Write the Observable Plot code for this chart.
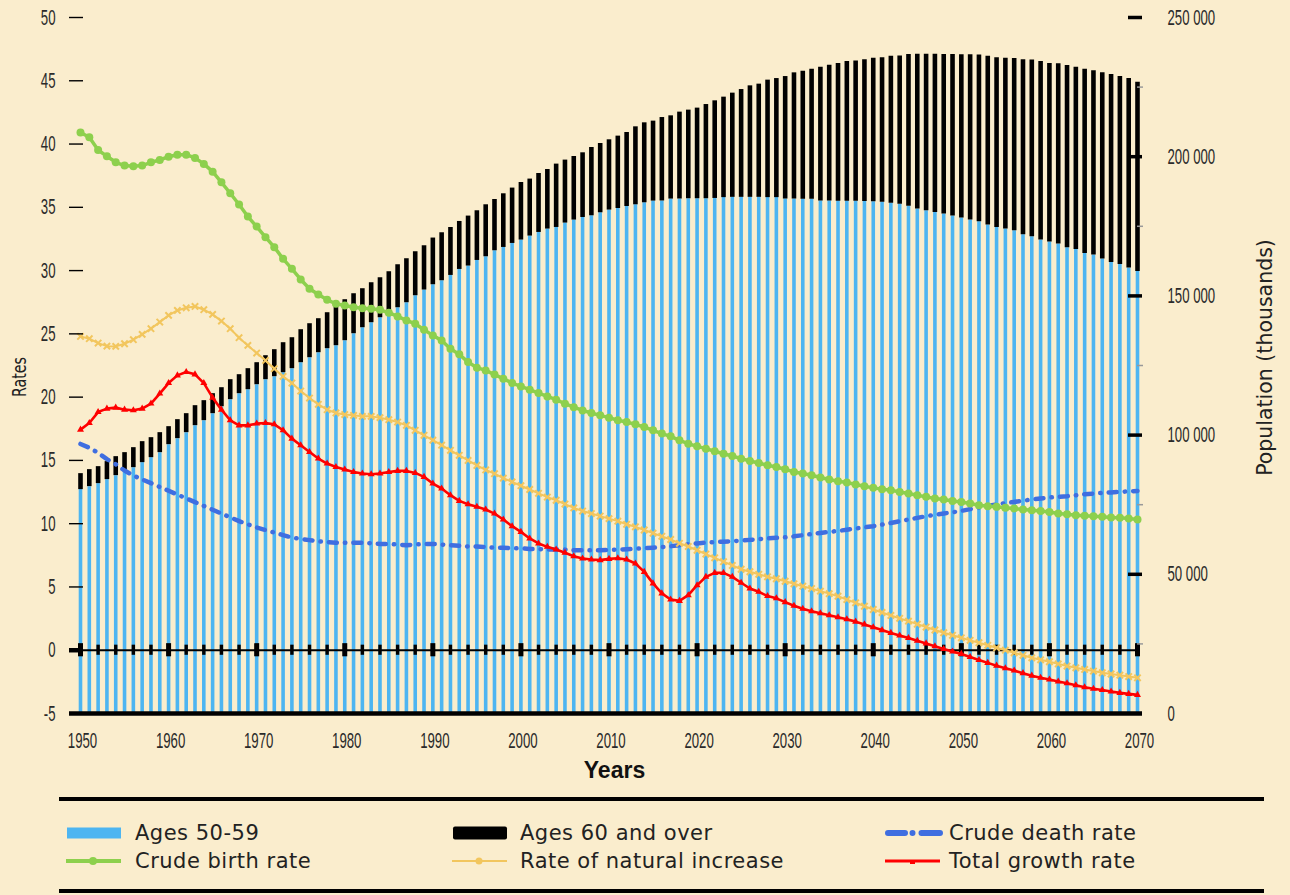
<!DOCTYPE html>
<html>
<head>
<meta charset="utf-8">
<script src="https://cdn.jsdelivr.net/npm/d3@7"></script>
<script src="https://cdn.jsdelivr.net/npm/@observablehq/plot@0.6"></script>
<style>
  html, body { margin: 0; padding: 0; background: #FAEDCD; }
  #wrap { position: relative; width: 1290px; height: 895px; overflow: hidden; background: #FAEDCD; }
  #chart svg { display: block; }
  #legend { position: absolute; left: 0; top: 790px; width: 1290px; height: 105px;
            font-family: "DejaVu Sans", sans-serif; font-size: 21px; color: #222; }
  #legend .rule { position: absolute; left: 59px; width: 1205px; height: 4px; background: #000; }
  #legend .sw { position: absolute; }
  #legend .lab { position: absolute; white-space: nowrap; line-height: 24px; letter-spacing: 0.5px; }
</style>
</head>
<body>
<div id="wrap">
  <div id="chart"></div>
  <div id="legend"></div>
</div>
<script>
// ---------------- data ----------------
const years = d3.range(1950, 2071);

// Population, thousands (right axis) — lower stacked segment (blue)
const ages5059 = [
  80420, 81490, 82570, 84010, 85440, 86880, 88310, 90110, 91900, 93700,
  96570, 98730, 100880, 103390, 105190, 107700, 110210, 112730, 114880, 116310,
  118110, 119910, 120980, 122420, 123860, 126010, 127800, 129600, 131040, 132110,
  133910, 136420, 138570, 140370, 142160, 143960, 145750, 147550, 150060, 152110,
  154010, 155450, 157350, 159500, 160720, 162730, 164060, 166220, 167400, 168840,
  170060, 171490, 172790, 174010, 174580, 176160, 177240, 178170, 178780, 179860,
  180830, 181400, 182120, 182730, 183450, 184060, 184100, 184780, 184800, 184900,
  184900, 184900, 185000, 185300, 185400, 185400, 185400, 185400, 185300, 185300,
  184800, 184800, 184700, 184700, 184100, 184100, 184000, 184000, 184000, 183900,
  183800, 183600, 183300, 182900, 182200, 181190, 180580, 179970, 179390, 178670,
  177960, 177240, 176630, 175440, 174580, 174010, 173400, 171960, 171240, 170060,
  169340, 168620, 167290, 166680, 165250, 164670, 163240, 162020, 161300, 160010,
  158790
];
// upper stacked segment (black)
const ages60plus = [
  5740, 6110, 6100, 6460, 6820, 6820, 7180, 7540, 7180, 7180,
  6460, 6820, 6820, 7180, 7180, 7180, 6820, 7180, 6820, 7550,
  7900, 8610, 9700, 10770, 11120, 11850, 12210, 12210, 12920, 14720,
  14720, 14360, 14010, 14360, 14360, 14720, 15440, 15800, 15800, 15900,
  16770, 17230, 17230, 17240, 17950, 17850, 18670, 18410, 19280, 19890,
  20680, 20470, 21180, 21390, 22760, 22620, 22830, 23230, 24520, 24880,
  25240, 25990, 26570, 28000, 28720, 28720, 29970, 29900, 31210, 31830,
  32550, 33840, 35070, 36090, 37430, 38720, 40050, 40660, 42200, 42770,
  43990, 45320, 46030, 46750, 48070, 48780, 49460, 50180, 50400, 50890,
  51600, 51900, 52810, 53300, 54490, 55610, 56220, 56830, 57310, 58030,
  58640, 59360, 59870, 60670, 60920, 61390, 61900, 62830, 63460, 64120,
  64120, 64780, 65450, 65490, 66200, 66170, 66880, 67490, 67490, 68060,
  67990
];
// Rates (left axis)
const birthRate = [
  40.92, 40.53, 39.53, 39.03, 38.56, 38.30, 38.24, 38.30, 38.56, 38.74,
  39.00, 39.16, 39.16, 38.90, 38.43, 37.82, 36.98, 36.11, 35.22, 34.27,
  33.48, 32.64, 31.85, 30.93, 30.14, 29.30, 28.56, 28.11, 27.69, 27.38,
  27.24, 27.11, 27.03, 26.98, 26.90, 26.67, 26.38, 26.06, 25.80, 25.33,
  24.88, 24.48, 23.83, 23.38, 22.77, 22.33, 22.11, 21.78, 21.46, 21.11,
  20.85, 20.59, 20.32, 20.06, 19.80, 19.48, 19.21, 18.95, 18.75, 18.56,
  18.38, 18.17, 18.03, 17.85, 17.64, 17.38, 17.12, 16.90, 16.59, 16.32,
  16.11, 15.93, 15.72, 15.53, 15.35, 15.14, 14.95, 14.79, 14.61, 14.48,
  14.30, 14.09, 13.96, 13.83, 13.65, 13.49, 13.36, 13.25, 13.10, 12.96,
  12.83, 12.73, 12.65, 12.51, 12.38, 12.25, 12.12, 11.99, 11.91, 11.80,
  11.72, 11.59, 11.46, 11.38, 11.33, 11.25, 11.20, 11.12, 11.07, 11.01,
  10.93, 10.80, 10.75, 10.67, 10.62, 10.59, 10.54, 10.49, 10.46, 10.41,
  10.33
];
const deathRate = [
  16.3, 16.0, 15.6, 15.1, 14.7, 14.2, 13.8, 13.5, 13.2, 12.9,
  12.6, 12.3, 12.0, 11.7, 11.4, 11.1, 10.8, 10.5, 10.2, 9.95,
  9.7, 9.5, 9.3, 9.1, 8.9, 8.8, 8.7, 8.6, 8.55, 8.5,
  8.5, 8.5, 8.5, 8.45, 8.4, 8.4, 8.35, 8.3, 8.35, 8.4,
  8.4, 8.35, 8.3, 8.25, 8.2, 8.2, 8.15, 8.1, 8.1, 8.05,
  8.05, 8.0, 8.0, 7.95, 7.95, 7.95, 7.9, 7.9, 7.9, 7.9,
  7.92, 7.95, 7.98, 8.02, 8.06, 8.1, 8.15, 8.22, 8.3, 8.37,
  8.44, 8.5, 8.54, 8.58, 8.62, 8.66, 8.72, 8.78, 8.84, 8.88,
  8.92, 9.0, 9.09, 9.18, 9.27, 9.35, 9.43, 9.52, 9.62, 9.71,
  9.80, 9.93, 10.06, 10.2, 10.33, 10.46, 10.59, 10.7, 10.80, 10.9,
  11.01, 11.15, 11.28, 11.4, 11.52, 11.62, 11.72, 11.82, 11.91, 11.99,
  12.07, 12.12, 12.17, 12.25, 12.33, 12.38, 12.43, 12.47, 12.51, 12.55,
  12.59
];
const naturalIncrease = [
  24.80, 24.62, 24.27, 24.03, 24.01, 24.22, 24.54, 24.96, 25.41, 25.93,
  26.46, 26.85, 27.06, 27.17, 26.91, 26.54, 26.01, 25.41, 24.70, 24.09,
  23.48, 22.90, 22.25, 21.64, 21.11, 20.48, 19.93, 19.43, 19.01, 18.75,
  18.62, 18.56, 18.48, 18.48, 18.38, 18.22, 18.03, 17.77, 17.38, 16.98,
  16.6, 16.2, 15.8, 15.4, 15.0, 14.6, 14.25, 13.95, 13.6, 13.3,
  13.0, 12.7, 12.4, 12.1, 11.85, 11.55, 11.25, 11.0, 10.8, 10.6,
  10.4, 10.2, 9.95, 9.75, 9.5, 9.25, 9.0, 8.75, 8.45, 8.2,
  7.9, 7.6, 7.3, 7.0, 6.7, 6.4, 6.2, 6.0, 5.8, 5.65,
  5.45, 5.25, 5.06, 4.87, 4.67, 4.47, 4.27, 4.0, 3.75, 3.48,
  3.22, 2.98, 2.75, 2.52, 2.30, 2.06, 1.83, 1.6, 1.38, 1.18,
  0.98, 0.78, 0.59, 0.39, 0.19, 0.0, -0.20, -0.40, -0.60, -0.76,
  -0.91, -1.08, -1.25, -1.39, -1.52, -1.65, -1.78, -1.88, -1.97, -2.08,
  -2.18
];
const growthRate = [
  17.43, 17.96, 18.82, 19.09, 19.17, 19.01, 18.96, 19.09, 19.49, 20.28,
  21.11, 21.72, 21.98, 21.80, 21.11, 19.96, 19.01, 18.17, 17.77, 17.77,
  17.91, 17.96, 17.85, 17.38, 16.72, 16.20, 15.67, 15.15, 14.75, 14.48,
  14.28, 14.09, 13.96, 13.91, 13.96, 14.09, 14.17, 14.17, 14.01, 13.70,
  13.17, 12.78, 12.25, 11.80, 11.54, 11.33, 11.12, 10.80, 10.33, 9.80,
  9.35, 8.83, 8.44, 8.17, 7.96, 7.70, 7.43, 7.25, 7.17, 7.12,
  7.22, 7.27, 7.17, 6.85, 6.19, 5.28, 4.49, 4.01, 3.90, 4.35,
  5.14, 5.80, 6.11, 6.11, 5.80, 5.33, 4.88, 4.62, 4.28, 4.10,
  3.80, 3.52, 3.27, 3.08, 2.92, 2.76, 2.60, 2.44, 2.26, 2.04,
  1.81, 1.59, 1.37, 1.17, 0.97, 0.75, 0.54, 0.32, 0.10, -0.10,
  -0.29, -0.53, -0.77, -1.00, -1.22, -1.42, -1.61, -1.81, -2.01, -2.17,
  -2.32, -2.47, -2.61, -2.77, -2.93, -3.04, -3.14, -3.26, -3.37, -3.45,
  -3.53
];

// tick values
const rateTicks = [-5, 0, 5, 10, 15, 20, 25, 30, 35, 40, 45, 50];
const popTicks = [0, 50000, 100000, 150000, 200000, 250000];
const popMinorTicks = [25000, 75000, 125000, 175000, 225000];
const yearTicks = [1950, 1960, 1970, 1980, 1990, 2000, 2010, 2020, 2030, 2040, 2050, 2060, 2070];
const legendLabels = ["Ages 50-59", "Ages 60 and over", "Crude death rate",
                      "Crude birth rate", "Rate of natural increase", "Total growth rate"];

// ---------------- styling ----------------
const BLUE = "#4DB5F1", GREEN = "#8DD04D", YELLOW = "#F2C65E", RED = "#FF0000", DEATH = "#3F6EE0";
const TICKFONT = "'Liberation Sans', Arial, sans-serif";

// population (right axis) expressed on the rate axis: 0 → -5, 250 000 → 50
const popMax = 250000;
const toRate = p => -5 + p / popMax * 55;

const rows = years.map((year, i) => ({
  year, under: ages5059[i], over: ages60plus[i],
  birth: birthRate[i], death: deathRate[i], natural: naturalIncrease[i], growth: growthRate[i]
}));
const minorYears = years.filter(y => y % 2 === 0 && y % 10 !== 0);
const fmtPop = d3.formatLocale({decimal: ".", thousands: " ", grouping: [3], currency: ["", ""]}).format(",d");

const chart = Plot.plot({
  width: 1290, height: 790,
  marginLeft: 80, marginRight: 153, marginTop: 17, marginBottom: 77,
  style: {background: "transparent", overflow: "visible"},
  x: {domain: [1950, 2070]},
  y: {domain: [-5, 50]},
  marks: [
    // stacked population bars
    Plot.ruleX(rows, {x: "year", y1: () => toRate(0), y2: d => toRate(d.under), stroke: BLUE, strokeWidth: 3.6}),
    Plot.ruleX(rows, {x: "year", y1: d => toRate(d.under), y2: d => toRate(d.under + d.over), stroke: "#000", strokeWidth: 4.6}),
    // zero line with year ticks
    Plot.ruleY([0], {stroke: "#000", strokeWidth: 2.2, insetLeft: -11}),
    Plot.ruleY([0], {x1: 1950, x2: 1950, insetLeft: -11, stroke: "#000", strokeWidth: 4.5}),
    Plot.ruleX(minorYears, {x: d => d, y1: -0.4, y2: 0.4, stroke: "#000", strokeWidth: 3.4}),
    Plot.ruleX(yearTicks, {x: d => d, y1: -0.52, y2: 0.52, stroke: "#000", strokeWidth: 5}),
    // rate lines
    Plot.line(rows, {x: "year", y: "death", stroke: DEATH, strokeWidth: 4.5, strokeDasharray: "8,8,0.5,8"}),
    Plot.line(rows, {x: "year", y: "birth", stroke: GREEN, strokeWidth: 3.5}),
    Plot.dot(rows, {x: "year", y: "birth", r: 4, fill: GREEN}),
    Plot.line(rows, {x: "year", y: "natural", stroke: YELLOW, strokeWidth: 2}),
    Plot.dot(rows, {x: "year", y: "natural", symbol: "times", r: 3, stroke: YELLOW, strokeWidth: 2}),
    Plot.line(rows, {x: "year", y: "growth", stroke: RED, strokeWidth: 2.6}),
    Plot.dot(rows, {x: "year", y: "growth", symbol: "triangle", r: 2.6, fill: RED}),
    // bottom base line
    Plot.ruleY([-5], {stroke: "#000", strokeWidth: 4.5, insetLeft: -11, insetRight: -5}),
    // left axis
    Plot.ruleY(rateTicks.filter(t => t > 0), {x1: 1950, x2: 1950, insetLeft: -11, insetRight: -3, stroke: "#000", strokeWidth: 1.4}),
    Plot.axisY({anchor: "left", ticks: rateTicks, tickSize: 0, tickPadding: 25, tickFormat: d => String(d),
                fill: "#2a2a2a", label: null}),
    // right axis (population)
    Plot.ruleY(popMinorTicks, {y: toRate, x1: 2070, x2: 2070, insetRight: -6, stroke: "#999", strokeWidth: 1.5}),
    Plot.ruleY(popTicks.filter(t => t > 0), {y: toRate, x1: 2070, x2: 2070, insetLeft: -9, insetRight: -5, stroke: "#000", strokeWidth: 3.5}),
    Plot.axisY({anchor: "right", ticks: popTicks.map(toRate), tickSize: 0, tickPadding: 30,
                tickFormat: (d, i) => fmtPop(popTicks[i]), fill: "#2a2a2a", label: null}),
    // x axis labels
    Plot.axisX({ticks: yearTicks, tickSize: 0, tickPadding: 19, tickFormat: d => String(d), dx: 2,
                fill: "#2a2a2a", label: null})
  ]
});
document.getElementById("chart").appendChild(chart);

// condensed look for tick labels (the original uses a tall condensed face)
d3.select(chart).selectAll("g[aria-label$='tick label'] text").each(function () {
  this.setAttribute("font-size", "22");
  this.style.fontSize = "22px";
  this.style.fontFamily = TICKFONT;
  const w = this.getComputedTextLength();
  this.setAttribute("textLength", (w * 0.6).toFixed(1));
  this.setAttribute("lengthAdjust", "spacingAndGlyphs");
});

// axis titles
const svg = d3.select(chart);
svg.append("text").attr("x", 614.5).attr("y", 778).attr("text-anchor", "middle")
  .style("font-family", "'Liberation Sans', Arial, sans-serif").style("font-weight", "bold")
  .style("font-size", "23px").attr("fill", "#111").text("Years");
svg.append("text").attr("transform", "translate(26,377) rotate(-90)").attr("text-anchor", "middle")
  .style("font-family", "'DejaVu Sans', sans-serif").style("font-size", "20px").attr("fill", "#222")
  .attr("textLength", 40).attr("lengthAdjust", "spacingAndGlyphs").text("Rates");
svg.append("text").attr("transform", "translate(1272,357.5) rotate(-90)").attr("text-anchor", "middle")
  .style("font-family", "'DejaVu Sans', sans-serif").style("font-size", "20.5px").attr("fill", "#222").text("Population (thousands)");

// ---------------- legend ----------------
const legend = d3.select("#legend");
legend.append("div").attr("class", "rule").style("top", "7px");
legend.append("div").attr("class", "rule").style("top", "99px");
const cols = [{sw: 66, tx: 135}, {sw: 452, tx: 520}, {sw: 885, tx: 949}];
const rowY = [43, 71];
const kinds = ["bar", "bar", "dash", "dot", "dot", "tri"];
const colors = [BLUE, "#000", DEATH, GREEN, YELLOW, RED];
legendLabels.forEach((label, i) => {
  const c = cols[i % 3], cy = rowY[Math.floor(i / 3)];
  const s = legend.append("svg").attr("class", "sw").attr("width", 60).attr("height", 20)
    .style("left", c.sw + "px").style("top", (cy - 10) + "px");
  const k = kinds[i], col = colors[i];
  if (k === "bar") {
    const h = i === 1 ? 13 : 11;
    s.append("rect").attr("x", 1).attr("y", 10 - h / 2).attr("width", 54).attr("height", h)
      .attr("rx", i === 1 ? 2 : 0).attr("fill", col);
  } else if (k === "dash") {
    s.append("line").attr("x1", 3).attr("x2", 55).attr("y1", 10).attr("y2", 10)
      .attr("stroke", col).attr("stroke-width", 6).attr("stroke-linecap", "round")
      .attr("stroke-dasharray", "17,7.5,0,9,18.5");
  } else {
    const w = i === 3 ? 4 : (i === 4 ? 2 : 3);
    s.append("line").attr("x1", 0).attr("x2", 55).attr("y1", 10).attr("y2", 10)
      .attr("stroke", col).attr("stroke-width", w);
    if (k === "tri") s.append("rect").attr("x", 25).attr("y", 9).attr("width", 5).attr("height", 4).attr("fill", col);
    else s.append("circle").attr("cx", 27).attr("cy", 10).attr("r", i === 3 ? 4 : 3.5).attr("fill", col);
  }
  legend.append("div").attr("class", "lab").style("left", c.tx + "px").style("top", (cy - 12) + "px").text(label);
});
</script>
</body>
</html>
